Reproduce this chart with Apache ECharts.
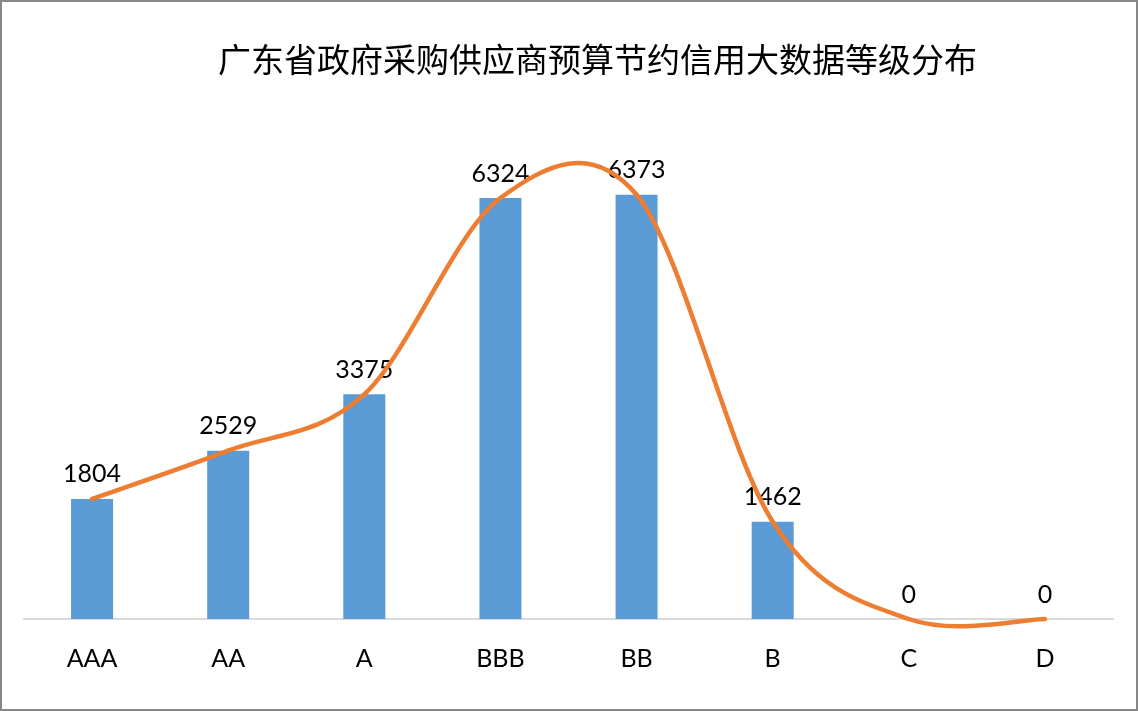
<!DOCTYPE html>
<html>
<head>
<meta charset="utf-8">
<script src="https://cdn.jsdelivr.net/npm/echarts@6/dist/echarts.min.js"></script>
<style>
html,body{margin:0;padding:0;background:#fff;}
#c{width:1138px;height:711px;}
</style>
</head>
<body>
<div id="c"></div>
<script>
const titleText = '广东省政府采购供应商预算节约信用大数据等级分布';
const categories = ['AAA', 'AA', 'A', 'BBB', 'BB', 'B', 'C', 'D'];
const barValues = [1804, 2529, 3375, 6324, 6373, 1462, 0, 0];
const lineValues = [1804, 2529, 3375, 6324, 6373, 1462, 0, 0];

// Excel-style smoothed line: cubic Bezier segments through each data point,
// control points from neighbouring points (Catmull-Rom, factor 1/6).
function renderSmooth(params, api) {
  const i = params.dataIndex;
  const n = lineValues.length;
  if (i >= n - 1) return null;
  const p = (k) => {
    const kk = Math.max(0, Math.min(n - 1, k));
    return api.coord([kk, lineValues[kk]]);
  };
  const p0 = p(i - 1), p1 = p(i), p2 = p(i + 1), p3 = p(i + 2);
  const f = 1 / 6;
  return {
    type: 'bezierCurve',
    shape: {
      x1: p1[0], y1: p1[1],
      x2: p2[0], y2: p2[1],
      cpx1: p1[0] + (p2[0] - p0[0]) * f,
      cpy1: p1[1] + (p2[1] - p0[1]) * f,
      cpx2: p2[0] - (p3[0] - p1[0]) * f,
      cpy2: p2[1] - (p3[1] - p1[1]) * f
    },
    style: {stroke: '#ed7d31', lineWidth: 4.5, fill: null, lineCap: 'round'}
  };
}

const chart = echarts.init(document.getElementById('c'), null, {renderer: 'canvas'});
chart.setOption({
  backgroundColor: '#ffffff',
  animation: false,
  title: {
    text: titleText,
    left: 213,
    top: 38,
    textStyle: {
      fontFamily: '"Noto Sans CJK SC", sans-serif',
      fontSize: 33,
      fontWeight: 'normal',
      color: '#000000'
    }
  },
  graphic: [{
    type: 'rect',
    shape: {x: 1, y: 1, width: 1136, height: 709},
    style: {fill: 'none', stroke: '#878787', lineWidth: 2},
    z: 100
  }],
  grid: {left: 24, right: 25, top: 153, bottom: 92, containLabel: false},
  xAxis: {
    type: 'category',
    data: categories,
    axisLine: {show: true, lineStyle: {color: '#d9d9d9', width: 2}},
    axisTick: {show: false},
    axisLabel: {
      margin: 27,
      fontSize: 25,
      color: '#000000',
      fontFamily: 'Lato, "Noto Sans", sans-serif'
    }
  },
  yAxis: {
    type: 'value',
    min: 0,
    max: 7000,
    show: false,
    splitLine: {show: false}
  },
  series: [
    {
      type: 'bar',
      data: barValues,
      barWidth: 42,
      itemStyle: {color: '#5b9bd5'},
      label: {
        show: true,
        position: 'top',
        distance: 12,
        fontSize: 25,
        color: '#000000',
        fontFamily: 'Lato, "Noto Sans", sans-serif'
      },
      z: 2
    },
    {
      type: 'custom',
      data: lineValues.map((v, i) => [i, v]),
      encode: {x: 0, y: 1},
      renderItem: renderSmooth,
      clip: false,
      z: 3
    }
  ]
});
</script>
</body>
</html>
